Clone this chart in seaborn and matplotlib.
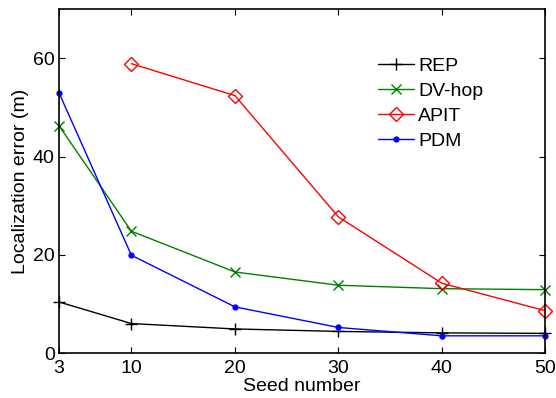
import numpy as np
import pandas as pd
import matplotlib
matplotlib.use("Agg")
import matplotlib.pyplot as plt
import seaborn as sns

seeds = [3, 10, 20, 30, 40, 50]
rep = [10.4, 6.0, 4.9, 4.4, 4.1, 4.0]
dv_hop = [46.3, 24.8, 16.5, 13.8, 13.1, 12.9]
apit = [np.nan, 58.9, 52.4, 27.7, 14.2, 8.6]
pdm = [53.0, 19.9, 9.4, 5.2, 3.5, 3.5]

series = [
    ("REP", rep, "black", "+", 9),
    ("DV-hop", dv_hop, (0, 0.5, 0), "x", 7),
    ("APIT", apit, "red", "D", 7),
    ("PDM", pdm, "blue", ".", 7),
]

sns.set_style("ticks")
plt.rcParams["font.family"] = ["Liberation Sans", "DejaVu Sans"]
plt.rcParams["font.size"] = 14
plt.rcParams["text.color"] = "black"
plt.rcParams["axes.labelcolor"] = "black"
plt.rcParams["xtick.color"] = "black"
plt.rcParams["ytick.color"] = "black"

fig = plt.figure(figsize=(5.56, 3.98), dpi=100)
ax = fig.add_axes([0.106, 0.113, 0.875, 0.864])

for name, vals, color, marker, ms in series:
    df = pd.DataFrame({"seed": seeds, "err": vals}).dropna()
    sns.lineplot(data=df, x="seed", y="err", ax=ax, color=color, marker=marker,
                 markersize=ms, linewidth=1, label=name, clip_on=False,
                 markerfacecolor="none" if marker == "D" else color,
                 markeredgecolor=color, markeredgewidth=1)

ax.set_xlim(3, 50)
ax.set_ylim(0, 70)
ax.set_xticks(seeds)
ax.set_yticks([0, 20, 40, 60])
ax.set_xlabel("Seed number", fontsize=14, labelpad=1)
ax.set_ylabel("Localization error (m)", fontsize=14, labelpad=3)
ax.tick_params(direction="in", length=4, width=0.8, top=True, right=True,
               labelsize=14, pad=5)
ax.tick_params(axis="y", pad=3)
for s in ax.spines.values():
    s.set_linewidth(1.2)
    s.set_color("black")

ax.legend(loc="upper left", bbox_to_anchor=(0.655, 0.86), frameon=False,
          borderpad=0, borderaxespad=0, handlelength=1.85, handletextpad=0.25,
          labelspacing=0.38, fontsize=14)

fig.savefig("out.png", dpi=100)
